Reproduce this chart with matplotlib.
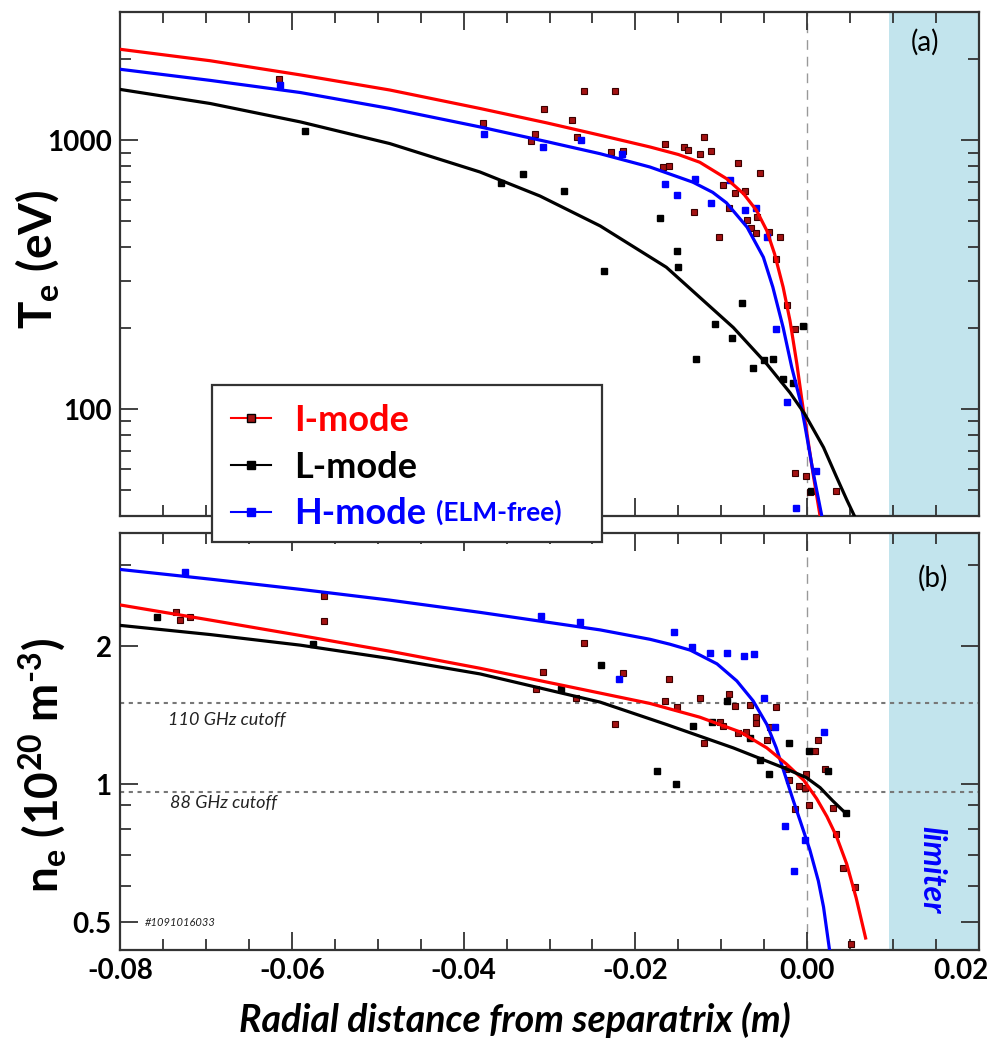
import numpy as np
import matplotlib
matplotlib.use("Agg")
import matplotlib.pyplot as plt
from matplotlib.lines import Line2D
from matplotlib.patches import Rectangle
from matplotlib.transforms import ScaledTranslation

plt.rcParams['font.family'] = ['Lato', 'DejaVu Sans']
plt.rcParams['mathtext.fontset'] = 'custom'
plt.rcParams['mathtext.rm'] = 'Lato:bold'
plt.rcParams['mathtext.bf'] = 'Lato:bold'
plt.rcParams['mathtext.it'] = 'Lato:bold:italic'

# ---------------- data ----------------
# (a) Te fits (x in m, Te in eV)
te_I_fit_x = [-0.0800, -0.0695, -0.0590, -0.0486, -0.0381, -0.0303, -0.0241, -0.0183, -0.0150, -0.0125,
              -0.0094, -0.0074, -0.0059, -0.0047, -0.0038, -0.0028, -0.0020, -0.0012, -0.0006, 0.0007,
              0.0015]
te_I_fit_y = [2180, 1976, 1750, 1538, 1313, 1160, 1044, 944, 885, 828,
              720, 632, 548, 461, 378, 284, 213, 147, 107, 57,
              40]
te_H_fit_x = [-0.0800, -0.0695, -0.0590, -0.0486, -0.0381, -0.0303, -0.0241, -0.0183, -0.0133, -0.0110,
              -0.0094, -0.0070, -0.0051, -0.0040, -0.0028, -0.0018, -0.0008, -0.0003, 0.0007, 0.0017]
te_H_fit_y = [1837, 1670, 1505, 1313, 1121, 988, 891, 795, 698, 640,
              585, 475, 367, 284, 201, 143, 107, 88, 58, 40]
te_L_fit_x = [-0.0800, -0.0695, -0.0590, -0.0486, -0.0381, -0.0311, -0.0241, -0.0164, -0.0086, -0.0047,
              -0.0020, -0.0003, 0.0019, 0.0034, 0.0046, 0.0055]
te_L_fit_y = [1546, 1370, 1170, 972, 762, 620, 480, 337, 201, 147,
              115, 96, 72, 56, 46, 40]

# (a) Te measurements
te_I_x = [-0.0615, -0.0377, -0.0260, -0.0224, -0.0306, -0.0274, -0.0268, -0.0317, -0.0321, -0.0228,
          -0.0215, -0.0165, -0.0143, -0.0139, -0.0120, -0.0125, -0.0112, -0.0080, -0.0168, -0.0161,
          -0.0055, -0.0098, -0.0084, -0.0072, -0.0091, -0.0132, -0.0070, -0.0059, -0.0066, -0.0060,
          -0.0044, -0.0032, -0.0103, -0.0036, -0.0024, -0.0014, -0.0014, -0.0001, 0.0003, 0.0034]
te_I_y = [1690, 1161, 1520, 1520, 1309, 1194, 1029, 1059, 994, 902,
          912, 972, 944, 918, 1029, 887, 912, 823, 795, 801,
          755, 679, 636, 647, 561, 542, 503, 517, 471, 453,
          455, 436, 436, 362, 244, 198, 57.8, 56.2, 49.1, 49.4]
te_L_x = [-0.0585, -0.0357, -0.0331, -0.0283, -0.0171, -0.0151, -0.0150, -0.0236, -0.0076, -0.0107,
          -0.0088, -0.0129, -0.0063, -0.0050, -0.0040, -0.0028, -0.0017, -0.0005, 0.0005]
te_L_y = [1081, 693, 751, 649, 514, 386, 337, 325, 247, 208,
          183, 153, 142, 152, 153, 129, 125, 203, 49.4]
te_H_x = [-0.0614, -0.0376, -0.0308, -0.0263, -0.0216, -0.0165, -0.0152, -0.0131, -0.0112, -0.0090,
          -0.0072, -0.0060, -0.0047, -0.0036, -0.0024, 0.0010, -0.0013]
te_H_y = [1603, 1059, 944, 1006, 887, 685, 627, 720, 586, 709,
          551, 561, 436, 198, 106, 58.7, 43]

# (b) ne fits (1e20 m^-3)
ne_H_fit_x = [-0.0800, -0.0695, -0.0590, -0.0486, -0.0381, -0.0241, -0.0183, -0.0160, -0.0136, -0.0105,
              -0.0082, -0.0063, -0.0047, -0.0036, -0.0026, -0.0016, -0.0008, 0.0003, 0.0013, 0.0019,
              0.0026]
ne_H_fit_y = [2.94, 2.80, 2.66, 2.52, 2.37, 2.17, 2.07, 2.02, 1.96, 1.83,
              1.68, 1.52, 1.35, 1.20, 1.05, 0.919, 0.83, 0.72, 0.615, 0.54,
              0.435]
ne_I_fit_x = [-0.0800, -0.0695, -0.0590, -0.0486, -0.0381, -0.0241, -0.0183, -0.0125, -0.0078, -0.0047,
              -0.0024, -0.0004, 0.0011, 0.0023, 0.0034, 0.0046, 0.0057, 0.0068]
ne_I_fit_y = [2.46, 2.28, 2.11, 1.95, 1.79, 1.58, 1.50, 1.40, 1.30, 1.20,
              1.106, 1.02, 0.93, 0.85, 0.77, 0.67, 0.565, 0.462]
ne_L_fit_x = [-0.0800, -0.0695, -0.0590, -0.0486, -0.0381, -0.0241, -0.0164, -0.0086, -0.0028, -0.0001,
              0.0015, 0.0030, 0.0046]
ne_L_fit_y = [2.22, 2.12, 2.01, 1.88, 1.74, 1.51, 1.35, 1.20, 1.087, 1.034,
              0.983, 0.919, 0.86]

# (b) ne measurements
ne_I_x = [-0.0735, -0.0719, -0.0730, -0.0563, -0.0563, -0.0260, -0.0307, -0.0316, -0.0269, -0.0224,
          -0.0215, -0.0161, -0.0165, -0.0152, -0.0125, -0.0120, -0.0102, -0.0098, -0.0091, -0.0084,
          -0.0067, -0.0060, -0.0060, -0.0080, -0.0071, -0.0047, -0.0036, -0.0043, -0.0025, -0.0021,
          -0.0010, -0.0014, -0.0002, -0.0001, 0.0002, 0.0009, 0.0013, 0.0021, 0.0030, 0.0034,
          0.0042, 0.0056, 0.0051]
ne_I_y = [2.37, 2.32, 2.28, 2.57, 2.27, 2.03, 1.76, 1.61, 1.54, 1.35,
          1.75, 1.70, 1.52, 1.47, 1.54, 1.23, 1.37, 1.34, 1.57, 1.48,
          1.49, 1.40, 1.36, 1.29, 1.30, 1.25, 1.47, 1.33, 1.08, 1.02,
          0.99, 0.882, 0.98, 1.05, 0.90, 1.18, 1.25, 1.08, 0.889, 0.778,
          0.657, 0.597, 0.449]
ne_L_x = [-0.0757, -0.0575, -0.0240, -0.0287, -0.0175, -0.0153, -0.0133, -0.0111, -0.0093, -0.0067,
          -0.0055, -0.0044, -0.0021, 0.0002, 0.0024, 0.0045]
ne_L_y = [2.32, 2.02, 1.82, 1.61, 1.07, 1.00, 1.34, 1.37, 1.52, 1.26,
          1.13, 1.05, 1.23, 1.18, 1.07, 0.867]
ne_H_x = [-0.0724, -0.0310, -0.0264, -0.0155, -0.0134, -0.0113, -0.0093, -0.0073, -0.0062, -0.0219,
          -0.0050, -0.0037, 0.0020, -0.0026, -0.0003, -0.0015]
ne_H_y = [2.90, 2.33, 2.26, 2.15, 1.99, 1.93, 1.93, 1.90, 1.92, 1.70,
          1.54, 1.33, 1.30, 0.811, 0.754, 0.648]

cutoffs = [1.5, 0.96]
cutoff_labels = ['110 GHz cutoff', '88 GHz cutoff']
limiter_start = 0.0095

x_ticks = [-0.08, -0.06, -0.04, -0.02, 0.00, 0.02]
x_ticklabels = ['-0.08', '-0.06', '-0.04', '-0.02', '0.00', '0.02']

# ---------------- figure ----------------
W, H = 997, 1064
fig = plt.figure(figsize=(W / 100, H / 100), dpi=100)
ax1 = fig.add_axes([120 / W, 1 - 516 / H, 859 / W, 504 / H])
ax2 = fig.add_axes([120 / W, 1 - 950 / H, 859 / W, 417 / H])

I_face = '#a31212'
lw_fit = 2.3
ms = 5

def style(ax):
    ax.set_xlim(-0.08, 0.02)
    ax.set_yscale('log')
    ax.set_xticks(x_ticks)
    ax.set_xticks(np.arange(-0.08, 0.0201, 0.005), minor=True)
    ax.tick_params(which='both', direction='in', top=True, right=True, width=1.3, color='#333333')
    ax.tick_params(which='major', length=13, labelsize=20, pad=6)
    ax.tick_params(which='minor', length=8)
    for s in ax.spines.values():
        s.set_linewidth(1.6)
        s.set_color('#333333')
    ax.axvspan(limiter_start, 0.02, color='#c2e4ed', lw=0, zorder=0)
    ax.axvline(0.0, color='#999999', lw=1.0, ls=(0, (7, 5)), zorder=1)

# panel (a)
style(ax1)
ax1.set_ylim(40, 3000)
ax1.set_yticks([100, 1000])
ax1.set_yticklabels(['100', '1000'])
ax1.set_yticks([40, 50, 60, 70, 80, 90, 200, 300, 400, 500, 600, 700, 800, 900, 2000, 3000], minor=True)
ax1.yaxis.set_minor_formatter(plt.NullFormatter())
ax1.set_xticklabels([])
ax1.plot(te_I_x, te_I_y, 's', ms=ms, mfc=I_face, mec='#3a0000', mew=0.8, zorder=2)
ax1.plot(te_L_x, te_L_y, 's', ms=ms, mfc='black', mec='black', zorder=2)
ax1.plot(te_H_x, te_H_y, 's', ms=ms, mfc='blue', mec='blue', zorder=2)
ax1.plot(te_I_fit_x, te_I_fit_y, '-', color='red', lw=lw_fit, zorder=3, solid_joinstyle='round')
ax1.plot(te_H_fit_x, te_H_fit_y, '-', color='blue', lw=lw_fit, zorder=3, solid_joinstyle='round')
ax1.plot(te_L_fit_x, te_L_fit_y, '-', color='black', lw=lw_fit, zorder=3, solid_joinstyle='round')
ax1.text(0.937, 0.940, '(a)', transform=ax1.transAxes, fontsize=20, ha='center', va='center')

# panel (b)
style(ax2)
ax2.set_ylim(0.435, 3.53)
ax2.set_yticks([0.5, 1, 2])
ax2.set_yticklabels(['0.5', '1', '2'])
ax2.set_yticks([0.6, 0.7, 0.8, 0.9, 3], minor=True)
ax2.yaxis.set_minor_formatter(plt.NullFormatter())
ax2.set_xticklabels(x_ticklabels)
for c in cutoffs:
    ax2.axhline(c, color='#777777', lw=1.5, ls=(0, (2, 2.2)), zorder=1)
ax2.plot(ne_I_x, ne_I_y, 's', ms=ms, mfc=I_face, mec='#3a0000', mew=0.8, zorder=2)
ax2.plot(ne_L_x, ne_L_y, 's', ms=ms, mfc='black', mec='black', zorder=2)
ax2.plot(ne_H_x, ne_H_y, 's', ms=ms, mfc='blue', mec='blue', zorder=2)
ax2.plot(ne_H_fit_x, ne_H_fit_y, '-', color='blue', lw=lw_fit, zorder=3, solid_joinstyle='round')
ax2.plot(ne_I_fit_x, ne_I_fit_y, '-', color='red', lw=lw_fit, zorder=3, solid_joinstyle='round')
ax2.plot(ne_L_fit_x, ne_L_fit_y, '-', color='black', lw=lw_fit, zorder=3, solid_joinstyle='round')
ax2.text(-0.0744, 1.383, cutoff_labels[0], fontsize=13, fontstyle='italic', color='#222222', va='center')
ax2.text(-0.0742, 0.910, cutoff_labels[1], fontsize=13, fontstyle='italic', color='#222222', va='center')
ax2.text(-0.0771, 0.50, '#1091016033', fontsize=8, fontstyle='italic', color='#222222', va='center')
ax2.text(0.946, 0.892, '(b)', transform=ax2.transAxes, fontsize=20, ha='center', va='center')
ax2.text(0.945, 0.192, 'limiter', transform=ax2.transAxes, fontsize=23, fontweight='bold',
         fontstyle='italic', color='blue', rotation=-90, ha='center', va='center')

for ax in (ax1, ax2):
    for t in ax.get_xticklabels() + ax.get_yticklabels():
        t.set_fontweight('bold')
# last x label sits pulled in from the figure edge, as in the original
last = ax2.get_xticklabels()[-1]
last.set_transform(last.get_transform() + ScaledTranslation(-0.18, 0, fig.dpi_scale_trans))

# axis labels
fig.text(37.5 / W, 1 - 259 / H, r'T$_\mathrm{e}$ (eV)', rotation=90, fontsize=33,
         fontweight='bold', ha='center', va='center')
fig.text(43 / W, 1 - 765 / H, r'n$_\mathrm{e}$ (10$^\mathrm{20}$ m$^{\text{-3}}$)', rotation=90,
         fontsize=33, fontweight='bold', ha='center', va='center')
fig.text(515 / W, 1 - 1020 / H, 'Radial distance from separatrix (m)', fontsize=27,
         fontweight='bold', fontstyle='italic', ha='center', va='center')

# legend spanning both panels
fig.patches.append(Rectangle((212 / W, 1 - 542 / H), 390 / W, 157 / H, transform=fig.transFigure,
                             fill=True, facecolor='white', edgecolor='#333333', lw=1.6, zorder=4))
handles = [Line2D([], [], color='red', lw=1.5, marker='s', ms=6, mfc=I_face, mec='black', mew=1),
           Line2D([], [], color='black', lw=1.5, marker='s', ms=6, mfc='black', mec='black'),
           Line2D([], [], color='blue', lw=1.5, marker='s', ms=6, mfc='blue', mec='blue')]
leg = fig.legend(handles, ['I-mode', 'L-mode', 'H-mode'], loc='upper left',
                 bbox_to_anchor=(231 / W, 1 - 404 / H), bbox_transform=fig.transFigure,
                 prop={'weight': 'bold', 'size': 26}, labelcolor=['red', 'black', 'blue'],
                 frameon=False, borderaxespad=0, borderpad=0, handlelength=1.1,
                 handletextpad=0.65, labelspacing=0.38)
leg.set_zorder(5)

fig.canvas.draw()
bb = leg.get_texts()[2].get_window_extent()
fig.text((bb.x1 + 10) / W, (bb.y0 + 5) / H, '(ELM-free)', fontsize=19, fontweight='bold',
         color='blue', ha='left', va='bottom', zorder=6)

fig.savefig('out.png', dpi=100)
